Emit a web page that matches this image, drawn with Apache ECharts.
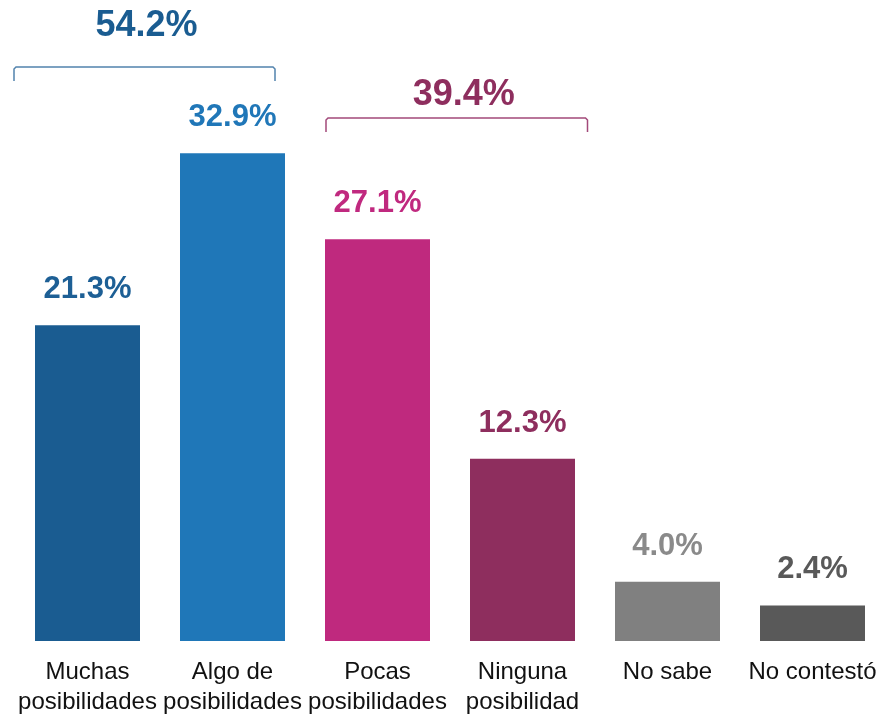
<!DOCTYPE html>
<html>
<head>
<meta charset="utf-8">
<script src="https://cdn.jsdelivr.net/npm/echarts@6/dist/echarts.min.js"></script>
<style>
  html, body { margin: 0; padding: 0; background: #fff; }
  #chart { width: 877px; height: 714px; }
</style>
</head>
<body>
<div id="chart"></div>
<script>
// datos
var categories = ['Muchas\nposibilidades', 'Algo de\nposibilidades', 'Pocas\nposibilidades', 'Ninguna\nposibilidad', 'No sabe', 'No contestó'];
var values = [21.3, 32.9, 27.1, 12.3, 4.0, 2.4];
var barColors = ['#1a5c91', '#1f77b8', '#bf297e', '#8e2e5e', '#808080', '#595959'];
var labelColors = ['#1d5f95', '#2077b8', '#c0297f', '#8e2e5e', '#8a8a8a', '#595959'];
// agrupaciones: [primera categoria, ultima categoria, total]
var groupFirst = [0, 2];
var groupLast = [1, 3];
var groupTotals = [54.2, 39.4];
var groupColors = ['#1a5c91', '#8e2e5e'];
var groupLineColors = ['#5283ad', '#a2497a'];

// ajustes de dibujo de los corchetes (px)
var bracketStyle = [
  { top: 67, left: -73.5, right: 42.5, textY: 26, textDx: 2 },
  { top: 118, left: -51.5, right: 65, textY: 95, textDx: 7 }
];

var chart = echarts.init(document.getElementById('chart'));

var bracketData = groupTotals.map(function (t, i) {
  return [groupFirst[i], groupLast[i], t, i];
});

chart.setOption({
  animation: false,
  grid: { left: 15, top: 48, width: 870, bottom: 73, outerBoundsMode: 'none', containLabel: false },
  xAxis: {
    type: 'category',
    data: categories,
    axisLine: { show: false },
    axisTick: { show: false },
    axisLabel: {
      color: '#111',
      fontFamily: 'Liberation Sans',
      fontSize: 24,
      lineHeight: 30,
      margin: 16,
      interval: 0
    }
  },
  yAxis: {
    type: 'value',
    min: 0,
    max: 40,
    show: false,
    splitLine: { show: false }
  },
  series: [
    {
      type: 'bar',
      barWidth: 105,
      data: values.map(function (v, i) {
        return {
          value: v,
          itemStyle: { color: barColors[i] },
          label: { color: labelColors[i] }
        };
      }),
      label: {
        show: true,
        position: 'top',
        distance: 20,
        fontFamily: 'Liberation Sans',
        fontWeight: 'bold',
        fontSize: 31,
        formatter: function (p) { return p.value.toFixed(1) + '%'; }
      }
    },
    {
      type: 'custom',
      data: bracketData,
      silent: true,
      renderItem: function (params, api) {
        var i = api.value(3);
        var st = bracketStyle[i];
        var x1 = api.coord([api.value(0), 0])[0] + st.left;
        var x2 = api.coord([api.value(1), 0])[0] + st.right;
        var y = st.top;
        var lineColor = groupLineColors[i];
        return {
          type: 'group',
          children: [
            {
              type: 'polyline',
              shape: { points: [[x1, y + 14], [x1, y + 2], [x1 + 2, y], [x2 - 2, y], [x2, y + 2], [x2, y + 14]] },
              style: { stroke: lineColor, lineWidth: 1.5, fill: null }
            },
            {
              type: 'text',
              x: (x1 + x2) / 2 + st.textDx,
              y: st.textY,
              style: {
                text: api.value(2).toFixed(1) + '%',
                fill: groupColors[i],
                font: 'bold 36px "Liberation Sans"',
                align: 'center',
                verticalAlign: 'middle'
              }
            }
          ]
        };
      }
    }
  ]
});
</script>
</body>
</html>
